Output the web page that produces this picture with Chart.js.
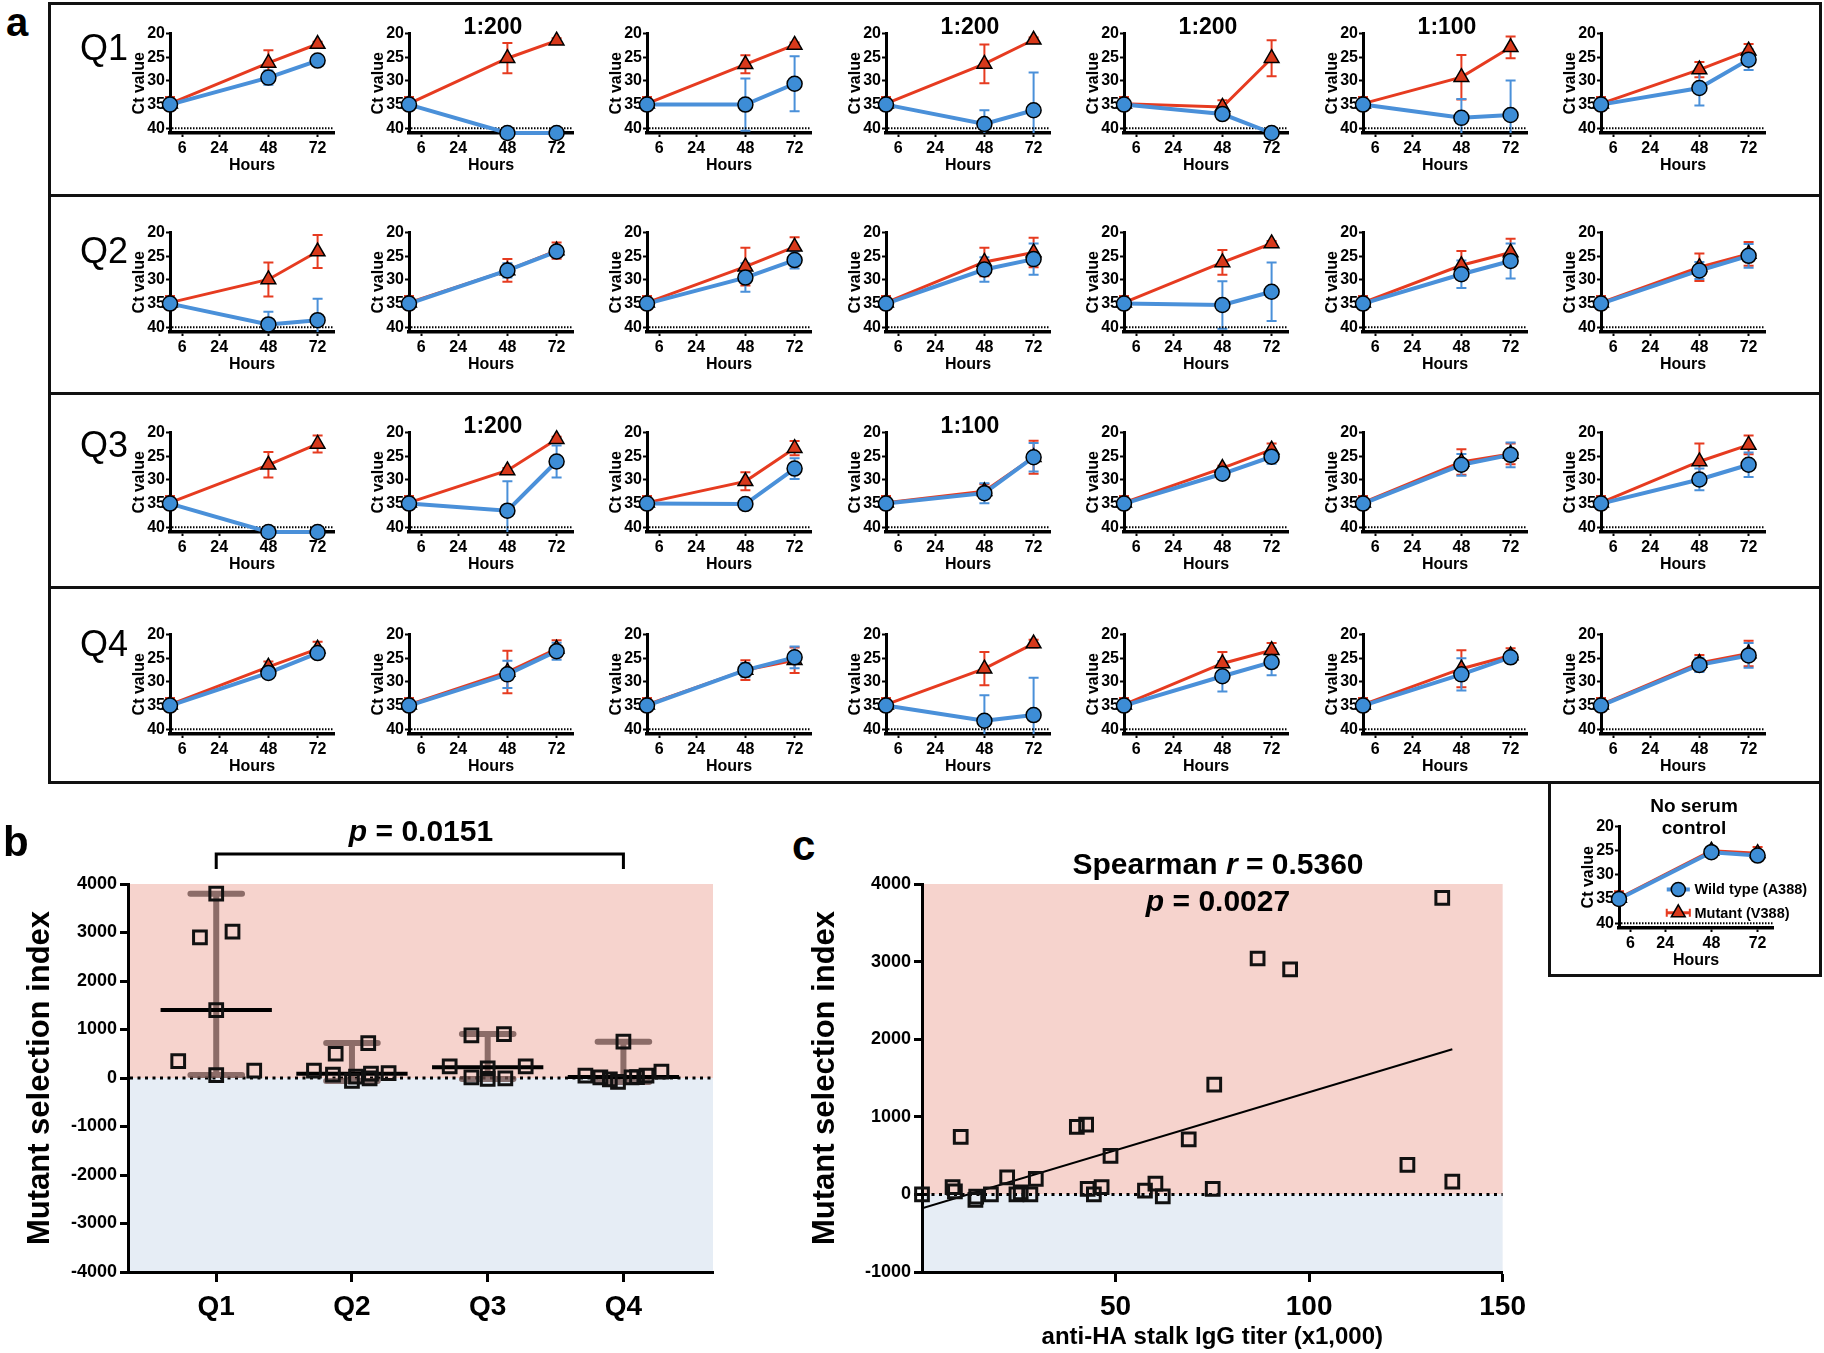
<!DOCTYPE html>
<html>
<head>
<meta charset="utf-8">
<script src="https://cdn.jsdelivr.net/npm/chart.js@4.4.1/dist/chart.umd.min.js"></script>
<style>
  body { margin:0; background:#fff; width:1824px; height:1353px; position:relative; overflow:hidden;
         font-family:'Liberation Sans', Arial, sans-serif; color:#000; }
  canvas { position:absolute; }
  .txt { position:absolute; white-space:nowrap; line-height:1.1; }
  .frame { position:absolute; border:3px solid #111; box-sizing:border-box; }
  .rule { position:absolute; background:#111; height:3px; }
</style>
</head>
<body>
<script>
/* Hemagglutinin stalk figure – panels a (Ct curves), b (MSI by quartile), c (titer correlation) */

// ---- data: panel a ----
const hours = [0, 48, 72];
const hourTicks = [6, 24, 48, 72];
const ctTicks = [20, 25, 30, 35, 40];
const detectionLimit = 40;
const quartiles = ['Q1', 'Q2', 'Q3', 'Q4'];

const dilutionQ1 = ['', '1:200', '', '1:200', '1:200', '1:100', ''];
const dilutionQ2 = ['', '', '', '', '', '', ''];
const dilutionQ3 = ['', '1:200', '', '1:100', '', '', ''];
const dilutionQ4 = ['', '', '', '', '', '', ''];

const wtQ1     = [[35,29.3,25.7],[35,41,41],[35,35,30.6],[35,39.1,36.2],[35,37,41],[35,37.8,37.2],[35,31.5,25.5]];
const wtErrQ1  = [[0.5,1.5,0.5],[0.5,0,0],[0.5,5.5,5.8],[0.5,2.9,8],[0.5,0.6,0],[0.5,4,7.3],[0.5,3.7,2.2]];
const mutQ1    = [[34.8,26.2,22.2],[34.8,25.2,21.5],[34.8,26.5,22.4],[34.8,26.4,21.3],[34.8,35.5,25.2],[34.8,29.2,22.9],[34.8,27.6,23.6]];
const mutErrQ1 = [[1.4,2.7,0.5],[1.4,3.2,0.5],[1.4,1.9,0.5],[1.4,4.1,0.5],[1.4,1.4,3.8],[1.4,4.7,2.3],[1.4,1.6,1.4]];

const wtQ2     = [[35,39.4,38.5],[35,28,24],[35,29.5,25.8],[35,27.8,25.6],[35,35.3,32.5],[35,28.8,26],[35,28,24.9]];
const wtErrQ2  = [[0.5,2.7,4.5],[0.5,1.5,1.2],[0.5,3,1.8],[0.5,2.6,3.3],[0.5,5,6.2],[0.5,2.9,3.7],[0.5,1.8,2.5]];
const mutQ2    = [[34.8,29.9,24],[34.8,28,23.8],[34.8,27.2,23],[34.8,26.2,24.2],[34.8,26.3,22.3],[34.8,26.9,24.2],[34.8,27.3,24.5]];
const mutErrQ2 = [[1.4,3.6,3.5],[1.4,2.4,1.7],[1.4,4,2],[1.4,3,3.1],[1.4,2.6,0.5],[1.4,3,2.9],[1.4,2.9,2.5]];

const wtQ3     = [[35,41,41],[35,36.5,26.1],[35,35.1,27.6],[35,32.8,25.2],[35,28.7,25.1],[35,26.8,24.7],[35,29.9,26.8]];
const wtErrQ3  = [[0.5,0,0],[0.5,6.2,3.4],[0.5,1,2.2],[0.5,2.1,3],[0.5,0.6,1.5],[0.5,2.3,2.6],[0.5,2.3,2.6]];
const mutQ3    = [[34.8,26.8,22.4],[34.8,28,21.4],[34.8,30.3,23.3],[34.8,32.4,25.2],[34.8,27.5,23.6],[34.8,26.2,24.5],[34.8,26.1,22.6]];
const mutErrQ3 = [[1.4,2.7,1.8],[1.4,0.5,0.5],[1.4,1.9,1.5],[1.4,1.5,3.5],[1.4,0.5,1.3],[1.4,2.7,2.2],[1.4,3.8,2]];

const wtQ4     = [[35,28.1,23.9],[35,28.4,23.5],[35,27.5,24.8],[35,38.2,37],[35,28.8,25.8],[35,28.4,24.8],[35,26.4,24.4]];
const wtErrQ4  = [[0.5,0.5,0.5],[0.5,2.9,1.8],[0.5,1.5,2.3],[0.5,5.4,7.9],[0.5,3.2,2.8],[0.5,3.4,1],[0.5,1.5,2.6]];
const mutQ4    = [[34.8,26.8,23],[34.8,27.9,23],[34.8,27.5,25.4],[34.8,27.2,21.9],[34.8,26.1,23.3],[34.8,27.2,24.4],[34.8,26,24]];
const mutErrQ4 = [[1.4,1.1,1.5],[1.4,4.5,1.8],[1.4,2.1,2.7],[1.4,3.5,0.8],[1.4,2.4,1.5],[1.4,3.9,1.5],[1.4,1.7,2.7]];

const wtCtrl     = [35, 25.3, 26];
const wtCtrlErr  = [0.5, 0.4, 0.5];
const mutCtrl    = [34.8, 25, 25.5];
const mutCtrlErr = [1.4, 0.5, 1.3];

// ---- data: panel b ----
const msiTicksB = [-4000, -3000, -2000, -1000, 0, 1000, 2000, 3000, 4000];
const q1Index  = [3800, 2900, 3020, 1400, 350, 60, 150];
const q1Jitter = [0, -0.12, 0.12, 0, -0.28, 0, 0.28];
const q2Index  = [150, 500, 720, 70, -60, -10, 100, 30, 90];
const q2Jitter = [-0.28, -0.12, 0.12, -0.14, 0, 0.13, 0.27, 0.03, 0.14];
const q3Index  = [240, 880, 905, 240, 15, -20, -10, 200];
const q3Jitter = [-0.28, -0.12, 0.12, 0.28, -0.12, 0, 0.13, 0];
const q4Index  = [750, 50, 15, -80, 15, 50, 130, -30, 20];
const q4Jitter = [0, -0.28, -0.17, -0.04, 0.06, 0.17, 0.28, -0.1, 0.1];

// ---- data: panel c ----
const msiTicksC = [-1000, 0, 1000, 2000, 3000, 4000];
const titerTicks = [50, 100, 150];
const titer = [0, 7.9, 8.5, 10, 13.8, 14, 17.8, 22, 24.4, 25.5, 28, 29.4, 40, 42.4, 42.8, 44.4, 46.4, 48.7, 57.6, 60.3, 62.2, 68.9, 75.1, 75.5, 86.7, 95.1, 125.4, 134.4, 137];
const msi   = [0, 95, 40, 740, -70, -30, 0, 220, 0, 25, 0, 200, 870, 900, 70, 0, 95, 495, 50, 140, -25, 710, 70, 1415, 3040, 2900, 380, 3820, 165];
const fitX = [0, 137];
const fitY = [-180, 1870];

// ---- styles ----
const FONT = "'Liberation Sans Narrow','Liberation Sans',Arial,sans-serif";
const WIDE = "'Liberation Sans', Arial, sans-serif";
const BLUE_LINE = '#4a90d9', BLUE_FILL = '#3d8dd6';
const RED_LINE = '#e63b20', RED_FILL = '#d8391b';
const PINK = '#f6d3cd', PALE_BLUE = '#e6edf5';
const RANGE = 'rgba(110,80,76,0.78)';

Chart.defaults.color = '#000';
Chart.defaults.font.family = FONT;

function addCanvas(left, top, w, h) {
  const c = document.createElement('canvas');
  c.width = w; c.height = h;
  c.style.left = left + 'px'; c.style.top = top + 'px';
  document.body.appendChild(c);
  return c;
}

function place(html, x, y, css, center) {
  const d = document.createElement('div');
  d.className = 'txt';
  d.innerHTML = html;
  d.style.cssText += css;
  d.style.left = x + 'px'; d.style.top = y + 'px';
  d.style.transform = center ? 'translate(-50%,-50%)' : 'translate(0,-50%)';
  document.body.appendChild(d);
}

function frame(left, top, w, h) {
  const d = document.createElement('div');
  d.className = 'frame';
  Object.assign(d.style, {left: left + 'px', top: top + 'px', width: w + 'px', height: h + 'px'});
  document.body.appendChild(d);
}
function rule(left, top, w) {
  const d = document.createElement('div');
  d.className = 'rule';
  Object.assign(d.style, {left: left + 'px', top: top + 'px', width: w + 'px'});
  document.body.appendChild(d);
}

// ---- plugins ----
const errorBars = {
  id: 'errorBars',
  beforeDatasetsDraw(chart) {
    const {ctx, scales: {x, y}} = chart;
    chart.data.datasets.slice().reverse().forEach(ds => {
      if (!ds.errors) return;
      ctx.save();
      ctx.strokeStyle = ds.borderColor;
      ctx.lineWidth = 2;
      ds.data.forEach((p, i) => {
        const e = ds.errors[i];
        if (!e) return;
        const px = x.getPixelForValue(p.x);
        const ends = [p.y - e, p.y + e].map(v => ({
          py: y.getPixelForValue(Math.min(Math.max(v, y.min), y.max)),
          clipped: v < y.min || v > y.max
        }));
        ctx.beginPath();
        ctx.moveTo(px, ends[0].py); ctx.lineTo(px, ends[1].py);
        ends.forEach(en => { if (!en.clipped) { ctx.moveTo(px - 5, en.py); ctx.lineTo(px + 5, en.py); } });
        ctx.stroke();
      });
      ctx.restore();
    });
  }
};

function refLine(value, width, dash) {
  return {
    id: 'refLine',
    beforeDatasetsDraw(chart) {
      const {ctx, chartArea: a, scales: {y}} = chart;
      const py = y.getPixelForValue(value);
      ctx.save();
      ctx.strokeStyle = '#000'; ctx.lineWidth = width; ctx.setLineDash(dash);
      ctx.beginPath(); ctx.moveTo(a.left + 2, py); ctx.lineTo(a.right, py); ctx.stroke();
      ctx.restore();
    }
  };
}

const bands = {
  id: 'bands',
  beforeDraw(chart) {
    const {ctx, chartArea: a, scales: {y}} = chart;
    const y0 = y.getPixelForValue(0);
    ctx.save();
    ctx.fillStyle = PINK; ctx.fillRect(a.left, a.top, a.right - a.left, y0 - a.top);
    ctx.fillStyle = PALE_BLUE; ctx.fillRect(a.left, y0, a.right - a.left, a.bottom - y0);
    ctx.restore();
  }
};

function median(arr) {
  const s = [...arr].sort((p, q) => p - q), m = s.length >> 1;
  return s.length % 2 ? s[m] : (s[m - 1] + s[m]) / 2;
}

function medianRange(groups) {
  return {
    id: 'medianRange',
    beforeDatasetsDraw(chart) {
      const {ctx, scales: {x, y}} = chart;
      ctx.save();
      groups.forEach((vals, gi) => {
        const cx = gi + 1;
        const lo = Math.min(...vals), hi = Math.max(...vals);
        ctx.strokeStyle = RANGE; ctx.lineWidth = 6; ctx.lineCap = 'round';
        ctx.beginPath();
        ctx.moveTo(x.getPixelForValue(cx), y.getPixelForValue(lo));
        ctx.lineTo(x.getPixelForValue(cx), y.getPixelForValue(hi));
        [lo, hi].forEach(v => {
          ctx.moveTo(x.getPixelForValue(cx - 0.19), y.getPixelForValue(v));
          ctx.lineTo(x.getPixelForValue(cx + 0.19), y.getPixelForValue(v));
        });
        ctx.stroke();
        ctx.strokeStyle = '#000'; ctx.lineWidth = 4; ctx.lineCap = 'butt';
        const my = y.getPixelForValue(median(vals));
        ctx.beginPath();
        ctx.moveTo(x.getPixelForValue(cx - 0.41), my);
        ctx.lineTo(x.getPixelForValue(cx + 0.41), my);
        ctx.stroke();
      });
      ctx.restore();
    }
  };
}

const bracket = {
  id: 'bracket',
  afterDraw(chart) {
    const {ctx, chartArea: a, scales: {x}} = chart;
    const x1 = x.getPixelForValue(1), x4 = x.getPixelForValue(4);
    const top = a.top - 30, foot = a.top - 15;
    ctx.save();
    ctx.strokeStyle = '#000'; ctx.lineWidth = 3;
    ctx.beginPath();
    ctx.moveTo(x1, foot); ctx.lineTo(x1, top); ctx.lineTo(x4, top); ctx.lineTo(x4, foot);
    ctx.stroke();
    ctx.restore();
  }
};

const ctrlLegend = {
  id: 'ctrlLegend',
  afterDraw(chart) {
    const {ctx, chartArea: a} = chart;
    const w = a.right - a.left, h = a.bottom - a.top;
    const rowsY = [a.top + 0.62 * h, a.top + 0.85 * h];
    chart.data.datasets.forEach((ds, i) => {
      const cy = rowsY[i];
      const xl = a.left + 0.31 * w, xr = a.left + 0.46 * w, xm = (xl + xr) / 2;
      ctx.save();
      ctx.strokeStyle = ds.borderColor; ctx.lineWidth = ds.borderWidth;
      ctx.beginPath(); ctx.moveTo(xl, cy); ctx.lineTo(xr, cy); ctx.stroke();
      if (i === 1) {
        ctx.lineWidth = 2;
        ctx.beginPath();
        ctx.moveTo(xl, cy - 4); ctx.lineTo(xl, cy + 4);
        ctx.moveTo(xr, cy - 4); ctx.lineTo(xr, cy + 4);
        ctx.stroke();
      }
      ctx.fillStyle = ds.pointBackgroundColor; ctx.strokeStyle = '#000'; ctx.lineWidth = 1.5;
      Chart.helpers.drawPoint(ctx, {pointStyle: ds.pointStyle, radius: ds.pointRadius - 0.5, borderWidth: 1.5, rotation: 0}, xm, cy);
      ctx.fillStyle = '#000';
      ctx.font = "bold 14.5px 'Liberation Sans', Arial, sans-serif";
      ctx.textBaseline = 'middle';
      ctx.fillText(ds.label, a.left + 0.49 * w, cy + 1);
      ctx.restore();
    });
  }
};

// ---- panel a: small Ct charts ----
const Y_AXIS_W = 42, PAD_T = 10;

function series(label, vals, errs, line, fill, style, radius, width) {
  return {
    label, errors: errs,
    data: hours.map((h, i) => ({x: h, y: vals[i]})),
    borderColor: line, backgroundColor: fill,
    pointBackgroundColor: fill, pointBorderColor: '#000', pointBorderWidth: 1.5,
    pointStyle: style, pointRadius: radius, borderWidth: width,
    clip: false, tension: 0
  };
}

function ctChart(axisX, y20, plotW, plotH, xAxisH, padR, wt, wtErr, mut, mutErr, extra) {
  const cv = addCanvas(axisX - Y_AXIS_W, y20 - PAD_T, Y_AXIS_W + plotW + padR, PAD_T + plotH + xAxisH);
  const tickFont = {family: FONT, weight: 'bold', size: 16};
  const titleFont = {family: FONT, weight: 'bold', size: 16};
  return new Chart(cv, {
    type: 'line',
    data: {datasets: [
      series('Wild type (A388)', wt, wtErr, BLUE_LINE, BLUE_FILL, 'circle', 7.5, 4),
      series('Mutant (V388)', mut, mutErr, RED_LINE, RED_FILL, 'triangle', 8.5, 3)
    ]},
    options: {
      responsive: false, animation: false, devicePixelRatio: 1,
      layout: {padding: {top: PAD_T, right: padR, left: 0, bottom: 0}},
      plugins: {legend: {display: false}, tooltip: {enabled: false}},
      scales: {
        x: {
          type: 'linear', min: 0, max: 80,
          afterBuildTicks: s => { s.ticks = hourTicks.map(v => ({value: v})); },
          afterFit: s => { s.height = xAxisH; },
          border: {display: true, width: 3.5, color: '#000'},
          grid: {drawOnChartArea: false, drawTicks: true, tickLength: 4, tickWidth: 2, tickColor: '#000'},
          ticks: {font: tickFont, padding: 2, maxRotation: 0, autoSkip: false},
          title: {display: true, text: 'Hours', font: titleFont, padding: 0}
        },
        y: {
          type: 'linear', reverse: true, min: 20, max: 41,
          afterBuildTicks: s => { s.ticks = ctTicks.map(v => ({value: v})); },
          afterFit: s => { s.width = Y_AXIS_W; },
          border: {display: true, width: 3, color: '#000'},
          grid: {drawOnChartArea: false, drawTicks: true, tickLength: 4, tickWidth: 2, tickColor: '#000'},
          ticks: {font: tickFont, padding: 1, autoSkip: false},
          title: {display: true, text: 'Ct value', font: titleFont, padding: {top: 2, bottom: 0}}
        }
      }
    },
    plugins: [errorBars, refLine(detectionLimit, 2, [1.5, 1.5]), ...(extra || [])]
  });
}

const rows = [
  {wt: wtQ1, wtErr: wtErrQ1, mut: mutQ1, mutErr: mutErrQ1, dil: dilutionQ1, y20: 33, labelY: 48},
  {wt: wtQ2, wtErr: wtErrQ2, mut: mutQ2, mutErr: mutErrQ2, dil: dilutionQ2, y20: 232, labelY: 251},
  {wt: wtQ3, wtErr: wtErrQ3, mut: mutQ3, mutErr: mutErrQ3, dil: dilutionQ3, y20: 432, labelY: 445},
  {wt: wtQ4, wtErr: wtErrQ4, mut: mutQ4, mutErr: mutErrQ4, dil: dilutionQ4, y20: 634, labelY: 644}
];
const COL_X0 = 170, COL_STEP = 238.5, PLOT_W = 164, PLOT_H = 100;

rows.forEach((r, ri) => {
  for (let ci = 0; ci < 7; ci++) {
    const axisX = Math.round(COL_X0 + ci * COL_STEP);
    ctChart(axisX, r.y20, PLOT_W, PLOT_H, 42, 12, r.wt[ci], r.wtErr[ci], r.mut[ci], r.mutErr[ci]);
    if (r.dil[ci]) place(r.dil[ci], axisX + 84, r.y20 - 6, 'font-size:23px;font-weight:bold;font-family:' + FONT, true);
  }
});

// no serum control
ctChart(1619, 826, 154, 102, 42, 42, wtCtrl, wtCtrlErr, mutCtrl, mutCtrlErr, [ctrlLegend]);

// ---- panel b ----
const groupsB = [q1Index, q2Index, q3Index, q4Index];
const jitterB = [q1Jitter, q2Jitter, q3Jitter, q4Jitter];
const squareStyle = {
  pointStyle: 'rect', pointRadius: 9, pointBorderWidth: 3,
  pointBorderColor: '#111', pointBackgroundColor: 'rgba(0,0,0,0)', showLine: false, clip: false
};

new Chart(addCanvas(20, 800, 705, 534), {
  type: 'scatter',
  data: {datasets: groupsB.map((vals, gi) => Object.assign({
    data: vals.map((v, i) => ({x: gi + 1 + jitterB[gi][i], y: v}))
  }, squareStyle))},
  options: {
    responsive: false, animation: false, devicePixelRatio: 1,
    layout: {padding: {top: 84, right: 12, left: 0, bottom: 0}},
    plugins: {legend: {display: false}, tooltip: {enabled: false}},
    scales: {
      x: {
        type: 'linear', min: 0.35, max: 4.66,
        afterBuildTicks: s => { s.ticks = quartiles.map((q, i) => ({value: i + 1})); },
        afterFit: s => { s.height = 62; },
        border: {display: true, width: 3, color: '#000'},
        grid: {drawOnChartArea: false, tickLength: 10, tickWidth: 3, tickColor: '#000'},
        ticks: {font: {family: FONT, weight: 'bold', size: 28}, padding: 8, callback: v => quartiles[v - 1]}
      },
      y: {
        min: -4000, max: 4000,
        afterBuildTicks: s => { s.ticks = msiTicksB.map(v => ({value: v})); },
        afterFit: s => { s.width = 108; },
        border: {display: true, width: 3, color: '#000'},
        grid: {drawOnChartArea: false, tickLength: 8, tickWidth: 3, tickColor: '#000'},
        ticks: {font: {family: FONT, weight: 'bold', size: 18}, padding: 3, autoSkip: false, callback: v => String(v)},
        title: {display: true, text: 'Mutant selection index', font: {family: WIDE, weight: 'bold', size: 31}, padding: {top: 2, bottom: 0}}
      }
    }
  },
  plugins: [bands, refLine(0, 3, [3, 4.5]), medianRange(groupsB), bracket]
});

// ---- panel c ----
new Chart(addCanvas(805, 870, 729, 482), {
  type: 'scatter',
  data: {datasets: [
    Object.assign({data: titer.map((t, i) => ({x: t, y: msi[i]}))}, squareStyle),
    {data: fitX.map((t, i) => ({x: t, y: fitY[i]})), showLine: true, borderColor: '#000', borderWidth: 2, pointRadius: 0}
  ]},
  options: {
    responsive: false, animation: false, devicePixelRatio: 1,
    layout: {padding: {top: 14, right: 30, left: 0, bottom: 0}},
    plugins: {legend: {display: false}, tooltip: {enabled: false}},
    scales: {
      x: {
        type: 'linear', min: 0, max: 150,
        afterBuildTicks: s => { s.ticks = titerTicks.map(v => ({value: v})); },
        afterFit: s => { s.height = 80; },
        border: {display: true, width: 3, color: '#000'},
        grid: {drawOnChartArea: false, tickLength: 10, tickWidth: 3, tickColor: '#000'},
        ticks: {font: {family: FONT, weight: 'bold', size: 28}, padding: 8},
        title: {display: true, text: 'anti-HA stalk IgG titer (x1,000)', font: {family: FONT, weight: 'bold', size: 24}, padding: 0}
      },
      y: {
        min: -1000, max: 4000,
        afterBuildTicks: s => { s.ticks = msiTicksC.map(v => ({value: v})); },
        afterFit: s => { s.width = 117; },
        border: {display: true, width: 3, color: '#000'},
        grid: {drawOnChartArea: false, tickLength: 8, tickWidth: 3, tickColor: '#000'},
        ticks: {font: {family: FONT, weight: 'bold', size: 18}, padding: 3, autoSkip: false, callback: v => String(v)},
        title: {display: true, text: 'Mutant selection index', font: {family: WIDE, weight: 'bold', size: 31}, padding: {top: 2, bottom: 0}}
      }
    }
  },
  plugins: [bands, refLine(0, 3, [3, 4.5])]
});

// ---- frames and text ----
frame(48, 2, 1774, 782);
rule(48, 194, 1774);
rule(48, 392, 1774);
rule(48, 586, 1774);
frame(1548, 781, 274, 196);

place('a', 6, 22, 'font-size:40px;font-weight:bold;');
rows.forEach((r, ri) => place(quartiles[ri], 80, r.labelY, 'font-size:36px;'));
place('No serum<br>control', 1694, 817, 'font-size:19px;font-weight:bold;text-align:center;line-height:22px;', true);

place('b', 3, 842, 'font-size:42px;font-weight:bold;');
place('<i>p</i> = 0.0151', 421, 830, 'font-size:30px;font-weight:bold;font-family:' + FONT, true);

place('c', 792, 846, 'font-size:42px;font-weight:bold;');
place('Spearman <i>r</i> = 0.5360', 1218, 863, 'font-size:30px;font-weight:bold;font-family:' + FONT, true);
place('<i>p</i> = 0.0027', 1218, 900, 'font-size:30px;font-weight:bold;font-family:' + FONT, true);
</script>
</body>
</html>
